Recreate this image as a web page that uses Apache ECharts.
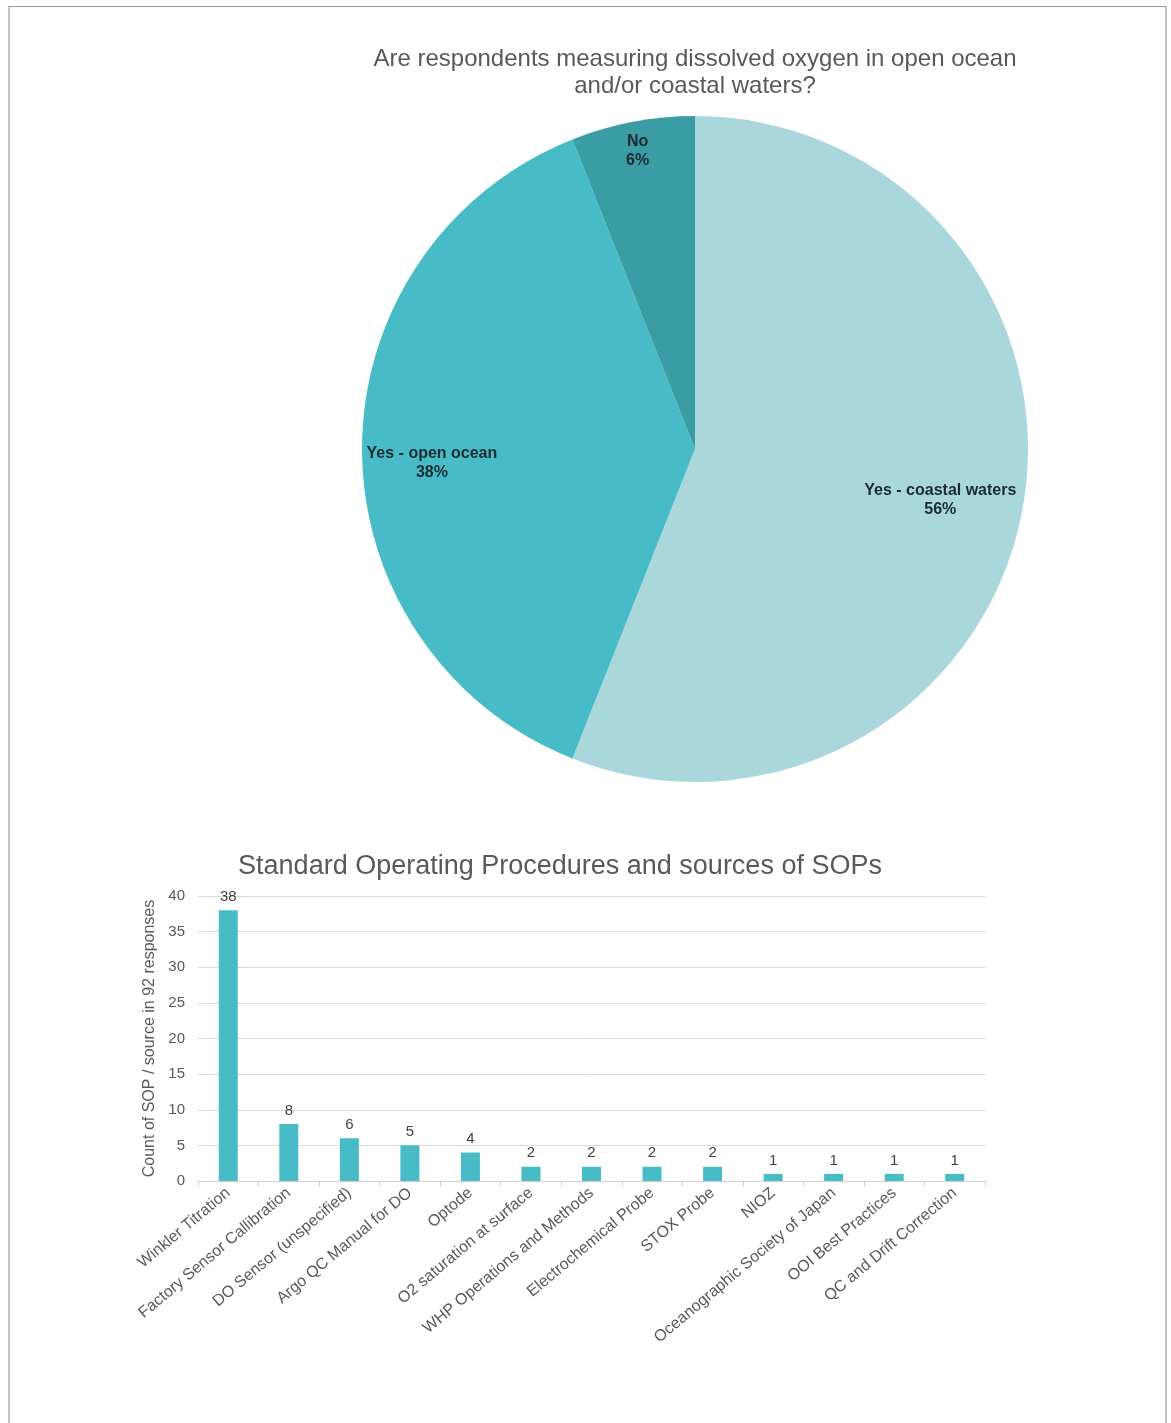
<!DOCTYPE html>
<html>
<head>
<meta charset="utf-8">
<script src="https://cdn.jsdelivr.net/npm/echarts@6/dist/echarts.min.js"></script>
<style>
  html, body { margin: 0; padding: 0; background: #fff; }
  #frame { position: absolute; left: 8px; top: 6px; width: 1155px; height: 1430px;
           border-top: 1px solid #9a9a9a; border-left: 2px solid #c4c4c4; border-right: 2px solid #c4c4c4; }
  #chart { position: absolute; left: 0; top: 0; width: 1171px; height: 1423px; }
</style>
</head>
<body>
<div id="frame"></div>
<div id="chart"></div>
<script>
// Survey answers: where dissolved oxygen is measured (percent of respondents)
const pieNames = ['Yes - coastal waters', 'Yes - open ocean', 'No'];
const pieValues = [56, 38, 6];
const pieColors = ['#A9D7DC', '#48BCC6', '#3A9CA4'];

// SOP / source counts across 92 responses
const sopCategories = [
  'Winkler Titration', 'Factory Sensor Callibration', 'DO Sensor (unspecified)',
  'Argo QC Manual for DO', 'Optode', 'O2 saturation at surface',
  'WHP Operations and Methods', 'Electrochemical Probe', 'STOX Probe', 'NIOZ',
  'Oceanographic Society of Japan', 'OOI Best Practices', 'QC and Drift Correction'
];
const sopCounts = [38, 8, 6, 5, 4, 2, 2, 2, 2, 1, 1, 1, 1];
const yTicks = [0, 5, 10, 15, 20, 25, 30, 35, 40];

const FONT = '"Liberation Sans", Arial, sans-serif';
const pieCenter = [695, 449];
const pieRadius = 333;
// where each slice label sits: fraction of radius along the bisector, plus a small vertical nudge
const labelReach = [0.75, 0.79, 0.92];
const labelNudge = [4, 14, 3];

const total = pieValues.reduce((a, b) => a + b, 0);
const midAngles = [];
let acc = 0;
pieValues.forEach(v => { midAngles.push((acc + v / 2) / total * 2 * Math.PI); acc += v; });

const chart = echarts.init(document.getElementById('chart'), null, { renderer: 'canvas' });
chart.setOption({
  animation: false,
  title: [
    {
      text: 'Are respondents measuring dissolved oxygen in open ocean\nand/or coastal waters?',
      left: 690, top: 41, textAlign: 'center',
      textStyle: { fontFamily: FONT, fontSize: 24, fontWeight: 'normal', color: '#595959', lineHeight: 27 }
    },
    {
      text: 'Standard Operating Procedures and sources of SOPs',
      left: 555, top: 848, textAlign: 'center',
      textStyle: { fontFamily: FONT, fontSize: 27, fontWeight: 'normal', color: '#595959' }
    }
  ],
  grid: { left: 198, right: 186, top: 896, height: 285 },
  xAxis: {
    type: 'category',
    data: sopCategories,
    axisLine: { lineStyle: { color: '#d0d0d0' } },
    axisTick: { show: true, alignWithLabel: false, length: 5, lineStyle: { color: '#d0d0d0' } },
    axisLabel: { interval: 0, rotate: 40, fontFamily: FONT, fontSize: 16, color: '#595959', margin: 10 }
  },
  yAxis: {
    type: 'value', min: yTicks[0], max: yTicks[yTicks.length - 1], interval: yTicks[1] - yTicks[0],
    name: 'Count of SOP / source in 92 responses',
    nameLocation: 'middle', nameGap: 40,
    nameTextStyle: { fontFamily: FONT, fontSize: 16, color: '#595959' },
    axisLine: { show: false }, axisTick: { show: false },
    axisLabel: { fontFamily: FONT, fontSize: 15, color: '#595959', margin: 13 },
    splitLine: { lineStyle: { color: '#d9d9d9' } }
  },
  series: [
    {
      type: 'pie',
      center: pieCenter,
      radius: pieRadius,
      startAngle: 90,
      clockwise: true,
      data: pieNames.map((n, i) => ({ name: n, value: pieValues[i], itemStyle: { color: pieColors[i] } })),
      label: {
        show: true, position: 'inside',
        formatter: p => p.name + '\n' + p.value + '%',
        fontFamily: FONT, fontSize: 16, fontWeight: 'bold', color: '#1b2a33', lineHeight: 19, align: 'center'
      },
      labelLayout: p => {
        const a = midAngles[p.dataIndex];
        const r = pieRadius * labelReach[p.dataIndex];
        return {
          x: pieCenter[0] + r * Math.sin(a),
          y: pieCenter[1] - r * Math.cos(a) + labelNudge[p.dataIndex],
          align: 'center', verticalAlign: 'middle'
        };
      },
      emphasis: { disabled: true }
    },
    {
      type: 'bar',
      data: sopCounts,
      barWidth: 19,
      itemStyle: { color: '#48BCC6' },
      label: { show: true, position: 'top', distance: 6, fontFamily: FONT, fontSize: 15, color: '#404040' }
    }
  ]
});
</script>
</body>
</html>
